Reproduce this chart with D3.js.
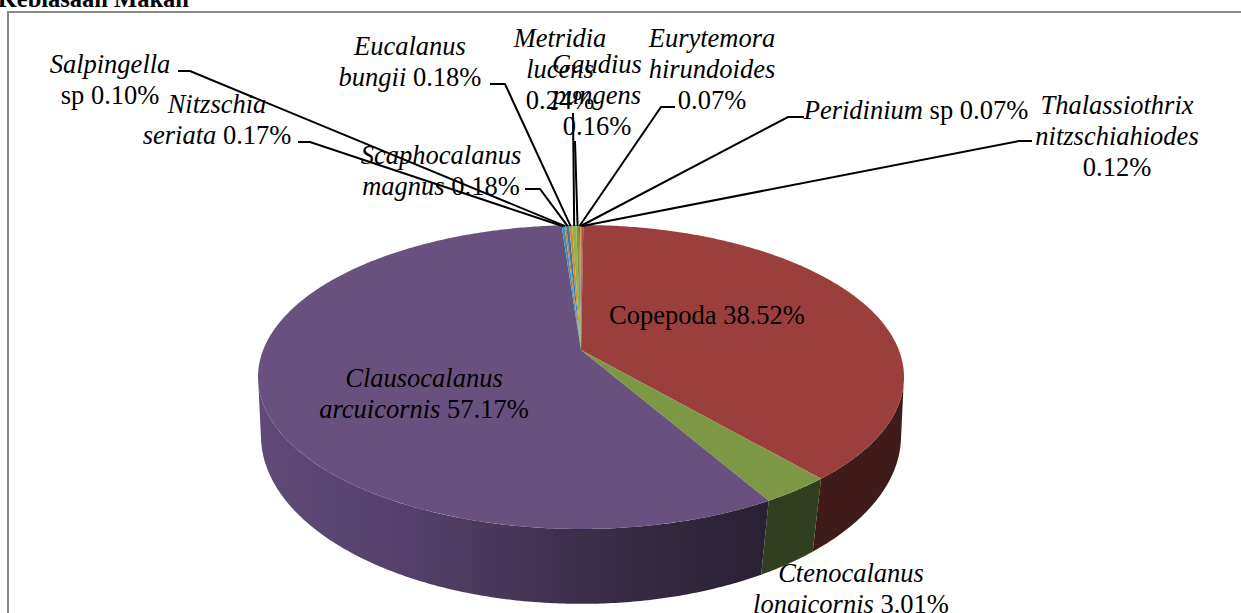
<!DOCTYPE html>
<html>
  <head>
    <meta charset="utf-8">
    <script type="text/javascript" src="https://cdn.jsdelivr.net/npm/d3@7/dist/d3.min.js"></script>
    <style>
      html, body { margin: 0; padding: 0; background: #fff; overflow: hidden; }
      text { font-family: "Liberation Serif", serif; font-size: 26.5px; fill: #000; }
    </style>
  </head>
  <body>
    <script type="text/javascript">
    // slices, clockwise from the top of the pie
    var species = ["Copepoda", "Ctenocalanus longicornis", "Clausocalanus arcuicornis",
                   "Nitzschia seriata", "Salpingella sp", "Scaphocalanus magnus",
                   "Eucalanus bungii", "Metridia lucens", "Gaudius pungens",
                   "Eurytemora hirundoides", "Peridinium sp", "Thalassiothrix nitzschiahiodes"];
    var percents = [38.52, 3.01, 57.17, 0.17, 0.10, 0.18, 0.18, 0.24, 0.16, 0.07, 0.07, 0.12];
    var topColors = ["#9b3f3c", "#7d9844", "#69517f", "#3a93b5", "#d07f35", "#3f74b0",
                     "#c9902f", "#8fb34a", "#7d9844", "#3f7fb8", "#d98433", "#b0504a"];
    var sideColors = ["#3f1c1a", "#323f1f", "url(#purpleSide)", "#222", "#222", "#222",
                      "#222", "#222", "#222", "#222", "#222", "#222"];
    var labelLines = [
        ["Copepoda 38.52%"],
        ["Ctenocalanus", "longicornis 3.01%"],
        ["Clausocalanus", "arcuicornis 57.17%"],
        ["Nitzschia", "seriata 0.17%"],
        ["Salpingella", "sp 0.10%"],
        ["Scaphocalanus", "magnus 0.18%"],
        ["Eucalanus", "bungii 0.18%"],
        ["Metridia", "lucens", "0.24%"],
        ["Gaudius", "pungens", "0.16%"],
        ["Eurytemora", "hirundoides", "0.07%"],
        ["Peridinium sp 0.07%"],
        ["Thalassiothrix", "nitzschiahiodes", "0.12%"]
    ];

    // label placement: centre x and first baseline, leader start/elbow when the label has one
    var labelPlace = [
        {x: 707, y: 324},
        {x: 851, y: 582},
        {x: 424, y: 387},
        {x: 217, y: 113, lead: [[298, 142], [310, 142]]},
        {x: 110, y: 73, lead: [[178, 71], [190, 71]]},
        {x: 441, y: 164, lead: [[525, 189], [540, 189]]},
        {x: 410, y: 55, lead: [[490, 84], [505, 84]]},
        {x: 560, y: 47, lead: [[573, 113]]},
        {x: 597, y: 73, lead: [[575, 141]]},
        {x: 712, y: 47, lead: [[675, 107], [661, 107]]},
        {x: 916, y: 119, lead: [[804, 117], [788, 117]]},
        {x: 1117, y: 114, lead: [[1032, 141], [1019, 141]]}
    ];

    var width = 1241, height = 613;
    var svg = d3.select("body").append("svg")
        .attr("width", width).attr("height", height)
        .style("display", "block");

    // perspective view of a circle: far side squeezed, near side stretched
    function face(cx, cy, rx, ryTop, ryBottom) {
        var k = (ryBottom - ryTop) / (ryBottom + ryTop);
        return {cx: cx, cy: cy, a: rx * Math.sqrt(1 - k * k), b: ryTop * (1 + k), k: k};
    }
    var topFace = face(581, 350, 323, 125, 179);
    var bottomFace = {cx: 581, cy: 412, a: 316.9, b: 165, k: 0.14};

    function project(f, angle) {
        var s = -Math.cos(angle), d = 1 - f.k * s;
        return [f.cx + f.a * Math.sin(angle) / d, f.cy + f.b * s / d];
    }
    function arcPoints(f, a0, a1) {
        var n = Math.max(2, Math.ceil((a1 - a0) / 0.01)), pts = [];
        for (var i = 0; i <= n; i++) pts.push(project(f, a0 + (a1 - a0) * i / n));
        return pts;
    }

    var rot = 0.5 * Math.PI / 180;
    var arcs = d3.pie().sort(null).startAngle(rot).endAngle(2 * Math.PI + rot)(percents);
    var line = d3.line();

    // gradient down the long purple side
    var grad = svg.append("defs").append("linearGradient")
        .attr("id", "purpleSide")
        .attr("gradientUnits", "userSpaceOnUse")
        .attr("x1", 258).attr("x2", 770).attr("y1", 0).attr("y2", 0);
    grad.append("stop").attr("offset", "0").attr("stop-color", "#5f4a78");
    grad.append("stop").attr("offset", "0.3").attr("stop-color", "#54406b");
    grad.append("stop").attr("offset", "0.62").attr("stop-color", "#3c2f4a");
    grad.append("stop").attr("offset", "1").attr("stop-color", "#292033");

    // outer frame, open on the right and at the bottom
    svg.append("path")
        .attr("d", line([[width, 12], [8, 12], [8, height]]))
        .attr("fill", "none").attr("stroke", "#8a8a8a").attr("stroke-width", 2);

    svg.append("text")
        .attr("x", 189).attr("y", 7)
        .attr("text-anchor", "end")
        .style("font-weight", "bold").style("font-size", "24.5px")
        .text("Kebiasaan Makan");

    // side wall, only the part facing the viewer
    var sideFrom = 100 * Math.PI / 180, sideTo = 260 * Math.PI / 180;
    svg.append("g").selectAll("path")
        .data(arcs.filter(function(d) { return d.endAngle > sideFrom && d.startAngle < sideTo; }))
        .enter().append("path")
        .attr("d", function(d) {
            var a0 = Math.max(d.startAngle, sideFrom), a1 = Math.min(d.endAngle, sideTo);
            return line(arcPoints(topFace, a0, a1).concat(arcPoints(bottomFace, a0, a1).reverse())) + "Z";
        })
        .attr("fill", function(d) { return sideColors[d.index]; });

    // top face
    svg.append("g").selectAll("path")
        .data(arcs)
        .enter().append("path")
        .attr("d", function(d) {
            return line([[topFace.cx, topFace.cy]].concat(arcPoints(topFace, d.startAngle, d.endAngle))) + "Z";
        })
        .attr("fill", function(d) { return topColors[d.index]; });

    // leader lines
    svg.append("g").selectAll("path")
        .data(arcs.filter(function(d) { return labelPlace[d.index].lead; }))
        .enter().append("path")
        .attr("d", function(d) {
            var tip = project(topFace, (d.startAngle + d.endAngle) / 2);
            return line(labelPlace[d.index].lead.concat([[tip[0], tip[1] + 1]]));
        })
        .attr("fill", "none").attr("stroke", "#000").attr("stroke-width", 2);

    // labels: latin names in italics, "sp" and the numbers upright
    function isUpright(word) { return /%$/.test(word) || word === "sp" || word === "Copepoda"; }
    var labels = svg.append("g").selectAll("text")
        .data(labelLines)
        .enter().append("text")
        .attr("text-anchor", "middle")
        .attr("y", function(d, i) { return labelPlace[i].y; });
    labels.each(function(lines, i) {
        var el = d3.select(this);
        lines.forEach(function(txt, j) {
            var words = txt.split(" ");
            words.forEach(function(w, m) {
                var ts = el.append("tspan")
                    .style("font-style", isUpright(w) ? "normal" : "italic")
                    .text(m < words.length - 1 ? w + "\u00a0" : w);
                if (m === 0) {
                    ts.attr("x", labelPlace[i].x).attr("y", labelPlace[i].y + j * 31);
                }
            });
        });
    });
    </script>
  </body>
</html>
